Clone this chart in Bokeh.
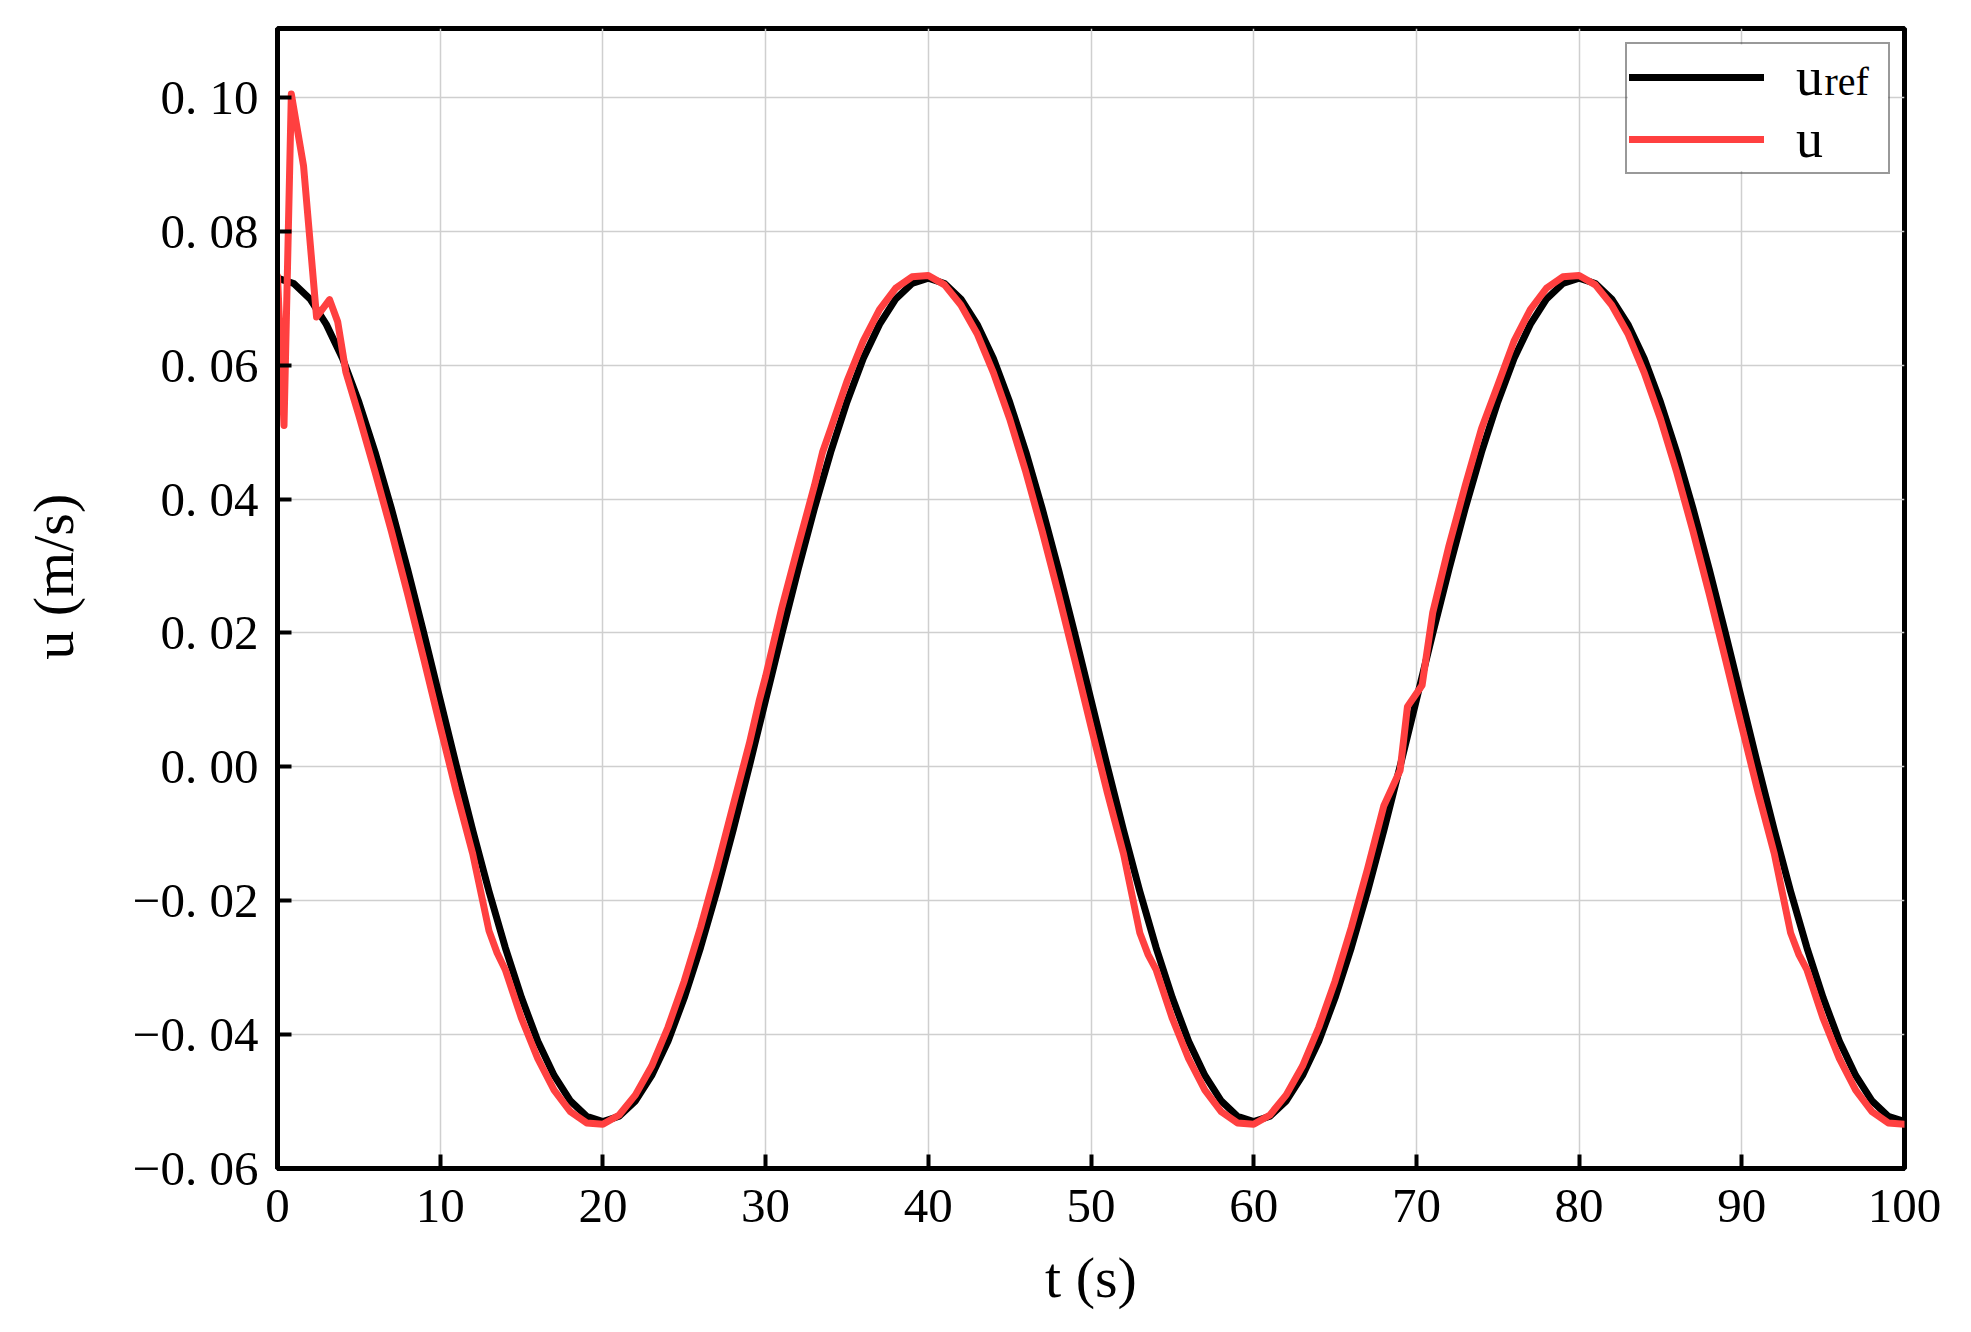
from bokeh.plotting import figure
from bokeh.models import Range1d, Legend, LegendItem, Label, FixedTicker, BoxAnnotation
from bokeh.embed import file_html
from bokeh.resources import INLINE

# ---- data ----
t_ref = list(range(0, 101))
u_ref = [
    0.0730, 0.0722, 0.0699, 0.0661, 0.0610, 0.0545, 0.0470, 0.0386, 0.0295, 0.0199,
    0.0100, 0.0001, -0.0095, -0.0186, -0.0270, -0.0345, -0.0410, -0.0461, -0.0499, -0.0522,
    -0.0530, -0.0522, -0.0499, -0.0461, -0.0410, -0.0345, -0.0270, -0.0186, -0.0095, 0.0001,
    0.0100, 0.0199, 0.0295, 0.0386, 0.0470, 0.0545, 0.0610, 0.0661, 0.0699, 0.0722,
    0.0730, 0.0722, 0.0699, 0.0661, 0.0610, 0.0545, 0.0470, 0.0386, 0.0295, 0.0199,
    0.0100, 0.0001, -0.0095, -0.0186, -0.0270, -0.0345, -0.0410, -0.0461, -0.0499, -0.0522,
    -0.0530, -0.0522, -0.0499, -0.0461, -0.0410, -0.0345, -0.0270, -0.0186, -0.0095, 0.0001,
    0.0100, 0.0199, 0.0295, 0.0386, 0.0470, 0.0545, 0.0610, 0.0661, 0.0699, 0.0722,
    0.0730, 0.0722, 0.0699, 0.0661, 0.0610, 0.0545, 0.0470, 0.0386, 0.0295, 0.0199,
    0.0100, 0.0001, -0.0095, -0.0186, -0.0270, -0.0345, -0.0410, -0.0461, -0.0499, -0.0522,
    -0.0530,
]

t_u = [
    0.0, 0.4, 0.85, 1.6, 2.4, 3.2, 3.7, 4.2, 5, 6, 7, 8, 9, 10, 11, 12, 13, 13.5, 14, 15,
    16, 17, 18, 19, 20, 21, 22, 23, 24, 25, 26, 27, 28, 29, 29.6, 30, 31, 32, 33, 33.5,
    34, 35, 36, 37, 38, 39, 40, 41, 42, 43, 44, 45, 46, 47, 48, 49, 50, 51, 52, 53,
    53.5, 54, 55, 56, 57, 58, 59, 60, 61, 62, 63, 64, 65, 66, 67, 68, 69, 69.45, 70.35, 71,
    72, 73, 74, 75, 76, 77, 78, 79, 80, 81, 82, 83, 84, 85, 86, 87, 88, 89, 90, 91,
    92, 93, 93.5, 94, 95, 96, 97, 98, 99, 100,
]
u_u = [
    0.0733, 0.0510, 0.1005, 0.0898, 0.0672, 0.0698, 0.0665, 0.0590, 0.0525, 0.0440,
    0.0352, 0.0258, 0.0160, 0.0060, -0.0038, -0.0130, -0.0245, -0.0278, -0.0303, -0.0376,
    -0.0436, -0.0483, -0.0515, -0.0532, -0.0534, -0.0520, -0.0490, -0.0447, -0.0389, -0.0320,
    -0.0240, -0.0152, -0.0058, 0.0035, 0.0098, 0.0135, 0.0238, 0.0330, 0.0420, 0.0470,
    0.0505, 0.0576, 0.0636, 0.0683, 0.0715, 0.0732, 0.0734, 0.0720, 0.0690, 0.0647,
    0.0589, 0.0520, 0.0440, 0.0352, 0.0258, 0.0160, 0.0060, -0.0038, -0.0130, -0.0248,
    -0.0280, -0.0303, -0.0376, -0.0436, -0.0483, -0.0515, -0.0532, -0.0534, -0.0520, -0.0490,
    -0.0447, -0.0389, -0.0320, -0.0240, -0.0152, -0.0058, -0.0005, 0.0090, 0.0122, 0.0230,
    0.0330, 0.0420, 0.0505, 0.0570, 0.0636, 0.0683, 0.0715, 0.0732, 0.0734, 0.0720,
    0.0690, 0.0647, 0.0589, 0.0520, 0.0440, 0.0352, 0.0258, 0.0160, 0.0060, -0.0038,
    -0.0130, -0.0248, -0.0280, -0.0303, -0.0376, -0.0436, -0.0483, -0.0515, -0.0532, -0.0534,
]

x_ticks = [0, 10, 20, 30, 40, 50, 60, 70, 80, 90, 100]
x_tick_labels = ["0", "10", "20", "30", "40", "50", "60", "70", "80", "90", "100"]
y_ticks = [-0.06, -0.04, -0.02, 0.0, 0.02, 0.04, 0.06, 0.08, 0.10]
y_tick_labels = ["\u22120. 06", "\u22120. 04", "\u22120. 02", "0. 00", "0. 02",
                 "0. 04", "0. 06", "0. 08", "0. 10"]

x_label = "t (s)"
y_label = "\u00a0\u00a0\u00a0u (m/s)"
legend_labels = ["u", "u"]
legend_sub = "ref"

FONT = "Liberation Serif"

p = figure(width=1955, height=1316, output_backend="svg", toolbar_location=None,
           x_range=Range1d(0, 100), y_range=Range1d(-0.06, 0.1103),
           min_border_left=277, min_border_right=51, min_border_top=28,
           min_border_bottom=148)

p.background_fill_color = "white"
p.border_fill_color = "white"
p.outline_line_color = "black"
p.outline_line_width = 5
p.outline_line_alpha = 1

for ax in (p.xaxis[0], p.yaxis[0]):
    ax.axis_line_width = 5
    ax.axis_line_color = "black"
    ax.major_tick_in = 14
    ax.major_tick_out = 0
    ax.major_tick_line_width = 4
    ax.major_tick_line_color = "black"
    ax.minor_tick_line_color = None
    ax.major_label_text_font = FONT
    ax.major_label_text_font_size = "49px"
    ax.major_label_text_color = "black"
    ax.axis_label_text_font = FONT
    ax.axis_label_text_font_size = "58px"
    ax.axis_label_text_font_style = "normal"
    ax.axis_label_text_color = "black"

p.xaxis.ticker = FixedTicker(ticks=x_ticks)
p.yaxis.ticker = FixedTicker(ticks=y_ticks)
p.xaxis.major_label_overrides = {t: s for t, s in zip(x_ticks, x_tick_labels)}
p.yaxis.major_label_overrides = {t: s for t, s in zip(y_ticks, y_tick_labels)}
p.xaxis.major_label_standoff = 21
p.yaxis.major_label_standoff = 19
p.xaxis.axis_label = x_label
p.yaxis.axis_label = y_label
p.xaxis.axis_label_standoff = 20
p.yaxis.axis_label_standoff = 44

p.xgrid.ticker = FixedTicker(ticks=x_ticks)
p.ygrid.ticker = FixedTicker(ticks=y_ticks)
for g in (p.xgrid[0], p.ygrid[0]):
    g.grid_line_color = "#cfcfcf"
    g.grid_line_width = 1.5

# white background behind the legend (covers the grid)
legend_bg = BoxAnnotation(left=83.0, right=99.0, top=0.1079, bottom=0.0890,
                          fill_color="white", fill_alpha=1, line_color=None,
                          level="underlay")
p.add_layout(legend_bg)

r_ref = p.line(t_ref, u_ref, line_color="black", line_width=7, line_join="round", line_cap="round")
r_u = p.line(t_u, u_u, line_color="#ff4040", line_width=7, line_join="round", line_cap="round")

legend = Legend(items=[LegendItem(label=legend_labels[0], renderers=[r_ref]),
                       LegendItem(label=legend_labels[1], renderers=[r_u])],
                location="top_right", margin=14, padding=2, spacing=0,
                glyph_width=135, glyph_height=54, label_width=90, label_height=54,
                label_standoff=32, border_line_color="#333333", border_line_width=2,
                background_fill_alpha=0,
                label_text_font=FONT, label_text_font_size="54px",
                label_text_color="black")
p.add_layout(legend)

sub = Label(x=95.08, y=0.10245, text=legend_sub, text_font=FONT, text_font_size="40px",
            text_color="black", text_baseline="middle", text_align="left")
p.add_layout(sub)

open("out.html", "w").write(file_html(p, INLINE))
